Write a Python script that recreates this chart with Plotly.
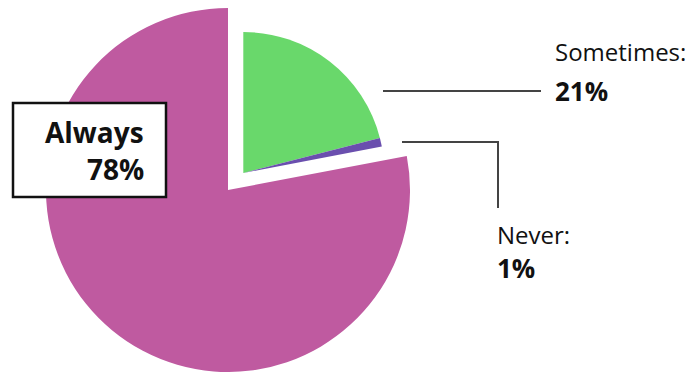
import plotly.graph_objects as go

# Survey answers (percent)
labels = ["Sometimes", "Never", "Always"]
values = [21, 1, 78]
colors = ["#69D86B", "#6A4FAE", "#BF5AA0"]

W, H = 696, 372
FONT = "Open Sans"


def domain(cx, cy, r):
    """Pie domain (paper coords) for a centre/radius given in pixels."""
    return dict(x=[(cx - r) / W, (cx + r) / W],
                y=[1 - (cy + r) / H, 1 - (cy - r) / H])


def px(x, y):
    return x / W, 1 - y / H


clear = "rgba(0,0,0,0)"

fig = go.Figure()

# Main pie: only the "Always" slice is painted
fig.add_trace(go.Pie(
    labels=labels, values=values, sort=False, direction="clockwise", rotation=0,
    marker=dict(colors=[clear, clear, colors[2]], line=dict(width=0)),
    textinfo="none", hoverinfo="skip", showlegend=False,
    domain=domain(228, 190, 182),
))

# Exploded group: "Sometimes" and "Never", smaller and shifted up-right
fig.add_trace(go.Pie(
    labels=labels, values=values, sort=False, direction="clockwise", rotation=0,
    marker=dict(colors=[colors[0], colors[1], clear], line=dict(width=0)),
    textinfo="none", hoverinfo="skip", showlegend=False,
    domain=domain(243.3, 173, 141),
))

shapes = []
# Box around the "Always" label
x0, y0 = px(13, 103)
x1, y1 = px(166, 197)
shapes.append(dict(type="rect", xref="paper", yref="paper", x0=x0, y0=y1, x1=x1, y1=y0,
                   line=dict(color="#111111", width=2.5), fillcolor="white"))

# Leader lines
a, b = px(383, 91)
c, d = px(541, 91)
shapes.append(dict(type="line", xref="paper", yref="paper", x0=a, y0=b, x1=c, y1=d,
                   line=dict(color="#444444", width=2)))
p1 = px(402, 142)
p2 = px(498, 142)
p3 = px(498, 208)
shapes.append(dict(type="path", xref="paper", yref="paper",
                   path=f"M {p1[0]},{p1[1]} L {p2[0]},{p2[1]} L {p3[0]},{p3[1]}",
                   line=dict(color="#444444", width=2)))

annotations = []


def note(text, x, y, size, bold, xanchor="left"):
    xx, yy = px(x, y)
    annotations.append(dict(
        text=f"<b>{text}</b>" if bold else text,
        x=xx, y=yy, xref="paper", yref="paper",
        xanchor=xanchor, yanchor="middle", showarrow=False,
        font=dict(family=FONT, size=size, color="#111111"),
    ))


note(labels[2], 146, 132, 28, True, "right")
note(f"{values[2]}%", 146, 169, 28, True, "right")
note(f"{labels[0]}:", 553, 52, 24, False)
note(f"{values[0]}%", 553, 91, 26, True)
note(f"{labels[1]}:", 495, 234, 24, False)
note(f"{values[1]}%", 495, 268, 26, True)

fig.update_layout(
    width=W, height=H,
    margin=dict(l=0, r=0, t=0, b=0),
    paper_bgcolor="white", plot_bgcolor="white",
    shapes=shapes, annotations=annotations,
)

fig.write_html("out.html")
